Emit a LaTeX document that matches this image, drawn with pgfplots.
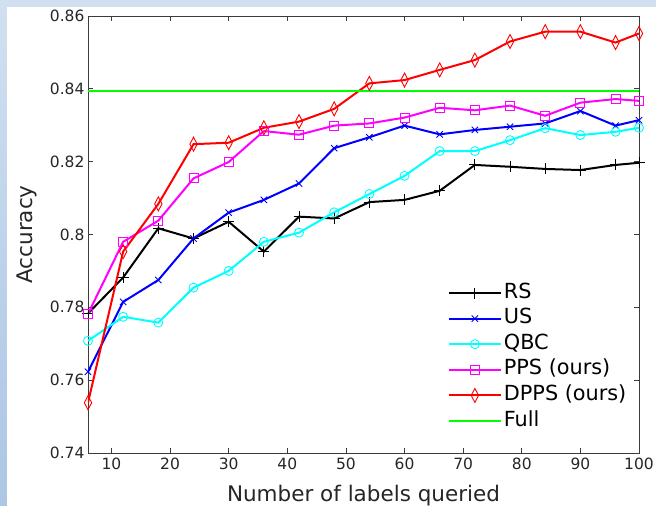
\documentclass[border=0pt]{standalone}
\usepackage{pgfplots}
\pgfplotsset{compat=1.18}
\usepackage{fontspec}
\setmainfont{DejaVu Sans}
\definecolor{axgray}{RGB}{60,60,60}
\definecolor{txtgray}{RGB}{38,38,38}
\definecolor{bandtop}{RGB}{208,224,240}
\definecolor{bandbot}{RGB}{172,198,228}
\definecolor{mblack}{RGB}{0,0,0}
\definecolor{mblue}{RGB}{0,0,255}
\definecolor{mcyan}{RGB}{0,255,255}
\definecolor{mmagenta}{RGB}{255,0,255}
\definecolor{mred}{RGB}{255,0,0}
\definecolor{mgreen}{RGB}{0,255,0}
\begin{document}
\begin{tikzpicture}[x=1pt,y=1pt]
\useasboundingbox (0,0) rectangle (656,506);
\shade[top color=bandtop,bottom color=bandbot] (0,0) rectangle (656,506);
\fill[white] (7,0) rectangle (656,499);
\begin{axis}[
  at={(88pt,53pt)}, anchor=south west,
  scale only axis, width=551pt, height=437pt,
  xmin=6, xmax=100, ymin=0.74, ymax=0.86,
  xtick={10,20,...,100},
  ytick={0.74,0.76,0.78,0.8,0.82,0.84,0.86},
  yticklabel style={/pgf/number format/fixed,/pgf/number format/precision=2},
  /pgf/number format/assume math mode=true,
  tick align=inside, major tick length=5pt,
  axis line style={axgray, line width=0.8pt},
  tick style={axgray, line width=0.8pt},
  ticklabel style={font=\fontsize{15.5}{18}\selectfont, text=txtgray},
  xticklabel style={yshift=-1pt},
  xlabel={Number of labels queried},
  ylabel={Accuracy},
  label style={font=\fontsize{21.5}{24}\selectfont, text=txtgray},
  xlabel style={yshift=-9pt},
  ylabel style={yshift=6pt},
  legend style={at={(0.651,0.394)}, anchor=north west, draw=none, fill=white,
    font=\fontsize{20.8}{25}\selectfont, text=black, inner sep=1pt,
    row sep=3.6pt, cells={anchor=west},
    nodes={text height=14pt, text depth=4pt}},
  legend cell align=left,
  legend image code/.code={\draw[mark repeat=2,mark phase=2,#1] plot coordinates {(0pt,0pt) (26pt,0pt) (52pt,0pt)};},
  every axis plot/.append style={line width=2pt, mark options={solid,line width=0.9pt,fill opacity=0}},
]
\addplot[mblack, mark=+, mark size=5.5pt] coordinates {
(6,0.7783) (12,0.7882) (18,0.8017) (24,0.7989) (30,0.8035) (36,0.7953) (42,0.8049) (48,0.8044) (54,0.8089) (60,0.8095) (66,0.8120) (72,0.8191) (78,0.8186) (84,0.8180) (90,0.8177) (96,0.8191) (100,0.8197)};
\addlegendentry{RS}
\addplot[mblue, mark=x, mark size=4.5pt] coordinates {
(6,0.7623) (12,0.7815) (18,0.7875) (24,0.7989) (30,0.8060) (36,0.8095) (42,0.8140) (48,0.8237) (54,0.8267) (60,0.8299) (66,0.8275) (72,0.8287) (78,0.8296) (84,0.8305) (90,0.8339) (96,0.8299) (100,0.8314)};
\addlegendentry{US}
\addplot[mcyan, mark=o, mark size=4.5pt] coordinates {
(6,0.7708) (12,0.7774) (18,0.7758) (24,0.7854) (30,0.7900) (36,0.7980) (42,0.8005) (48,0.8061) (54,0.8111) (60,0.8161) (66,0.8229) (72,0.8229) (78,0.8259) (84,0.8292) (90,0.8273) (96,0.8282) (100,0.8293)};
\addlegendentry{QBC}
\addplot[mmagenta, mark=square, mark size=4.5pt] coordinates {
(6,0.7782) (12,0.7980) (18,0.8038) (24,0.8154) (30,0.8199) (36,0.8284) (42,0.8274) (48,0.8299) (54,0.8305) (60,0.8321) (66,0.8348) (72,0.8341) (78,0.8354) (84,0.8326) (90,0.8362) (96,0.8372) (100,0.8367)};
\addlegendentry{PPS (ours)}
\addplot[mred, mark=diamond, mark size=7pt, mark options={solid,line width=0.9pt,xscale=0.7,fill opacity=0}] coordinates {
(6,0.7538) (12,0.7953) (18,0.8084) (24,0.8248) (30,0.8252) (36,0.8293) (42,0.8310) (48,0.8345) (54,0.8415) (60,0.8424) (66,0.8452) (72,0.8479) (78,0.8530) (84,0.8557) (90,0.8557) (96,0.8527) (100,0.8552)};
\addlegendentry{DPPS (ours)}
\addplot[mgreen, no marks] coordinates {(6,0.8395) (100,0.8395)};
\addlegendentry{Full}
\end{axis}
\end{tikzpicture}
\end{document}
